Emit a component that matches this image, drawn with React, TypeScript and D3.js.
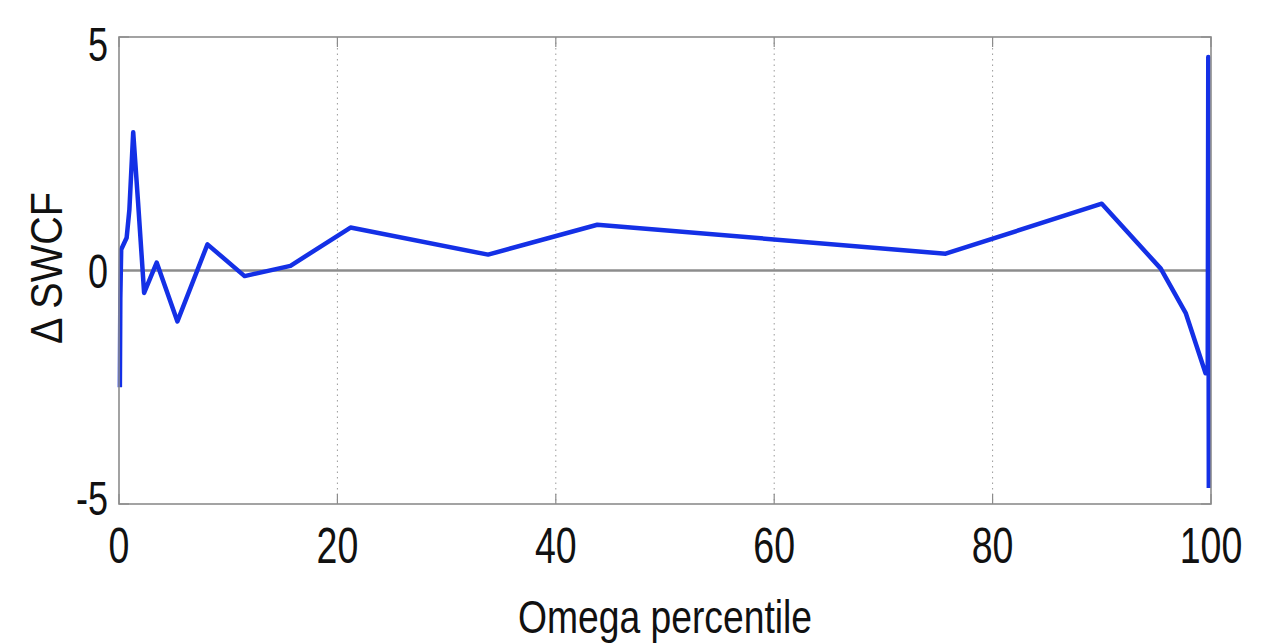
import React, { useEffect, useRef } from "react";
import * as d3 from "d3";

// Change in shortwave cloud forcing versus omega percentile
const omegaPct: number[] = [
  0.08, 0.12, 0.2, 0.7, 0.95, 1.3, 1.75, 2.3, 3.45, 5.35, 8.1, 11.5, 15.7,
  21.2, 33.8, 43.8, 75.7, 90.0, 95.4, 97.7, 99.5, 99.7, 99.75, 99.8,
];
const dSWCF: number[] = [
  -2.5, -0.6, 0.45, 0.7, 1.3, 2.96, 1.45, -0.48, 0.17, -1.09, 0.56, -0.12, 0.1,
  0.92, 0.34, 0.98, 0.36, 1.43, 0.04, -0.92, -2.2, -2.2, 4.57, -4.66,
];
const xTicks: number[] = [0, 20, 40, 60, 80, 100];
const yTicks: number[] = [-5, 0, 5];
const xGrid: number[] = [20, 40, 60, 80];

const W = 1270;
const H = 643;
const M = { left: 119, right: 1211, top: 37, bottom: 504 };
const FONT = "'Liberation Sans', Arial, Helvetica, sans-serif";

export default function App() {
  const ref = useRef<SVGSVGElement | null>(null);

  useEffect(() => {
    const svg = d3.select(ref.current);
    svg.selectAll("*").remove();

    const x = d3.scaleLinear().domain([0, 100]).range([M.left, M.right]);
    const y = d3.scaleLinear().domain([-5, 5]).range([M.bottom, M.top]);
    // baselines for the y tick labels
    const yLab = d3.scaleLinear().domain([-5, 5]).range([515, 61]);

    svg.append("rect").attr("width", W).attr("height", H).attr("fill", "#fff");

    // dotted vertical grid
    svg
      .append("g")
      .selectAll("line")
      .data(xGrid)
      .join("line")
      .attr("x1", (d) => x(d))
      .attr("x2", (d) => x(d))
      .attr("y1", M.top)
      .attr("y2", M.bottom)
      .attr("stroke", "#9a9a9a")
      .attr("stroke-width", 1)
      .attr("stroke-dasharray", "1.5,4");

    // zero reference line
    svg
      .append("line")
      .attr("x1", M.left)
      .attr("x2", M.right)
      .attr("y1", y(0))
      .attr("y2", y(0))
      .attr("stroke", "#8c8c8c")
      .attr("stroke-width", 2.4);

    // tick marks (inward)
    const tk = svg.append("g").attr("stroke", "#8c8c8c").attr("stroke-width", 1.2);
    xTicks.forEach((t) => {
      tk.append("line").attr("x1", x(t)).attr("x2", x(t)).attr("y1", M.bottom).attr("y2", M.bottom - 10);
      tk.append("line").attr("x1", x(t)).attr("x2", x(t)).attr("y1", M.top).attr("y2", M.top + 10);
    });
    yTicks.forEach((t) => {
      tk.append("line").attr("x1", M.left).attr("x2", M.left + 10).attr("y1", y(t)).attr("y2", y(t));
      tk.append("line").attr("x1", M.right).attr("x2", M.right - 10).attr("y1", y(t)).attr("y2", y(t));
    });

    // data line
    const pts: [number, number][] = omegaPct.map((v, i) => [v, dSWCF[i]]);
    const line = d3
      .line<[number, number]>()
      .x((d) => x(d[0]))
      .y((d) => y(d[1]));
    svg
      .append("path")
      .attr("d", line(pts) || "")
      .attr("fill", "none")
      .attr("stroke", "#1430e6")
      .attr("stroke-width", 4.5)
      .attr("stroke-linejoin", "round");

    // axes box
    svg
      .append("rect")
      .attr("x", M.left)
      .attr("y", M.top)
      .attr("width", M.right - M.left)
      .attr("height", M.bottom - M.top)
      .attr("fill", "none")
      .attr("stroke", "#8c8c8c")
      .attr("stroke-width", 1.6);

    const sx = 0.75;
    // x tick labels
    xTicks.forEach((t) => {
      svg
        .append("text")
        .attr("transform", `translate(${x(t)},${563}) scale(${sx},1)`)
        .attr("text-anchor", "middle")
        .attr("font-family", FONT)
        .attr("font-size", 50)
        .attr("fill", "#111")
        .text(String(t));
    });
    // y tick labels
    yTicks.forEach((t) => {
      svg
        .append("text")
        .attr("transform", `translate(${108},${yLab(t)}) scale(${sx},1)`)
        .attr("text-anchor", "end")
        .attr("font-family", FONT)
        .attr("font-size", 48)
        .attr("fill", "#111")
        .text(String(t));
    });

    // axis titles
    svg
      .append("text")
      .attr("transform", `translate(${(M.left + M.right) / 2},${633}) scale(0.81,1)`)
      .attr("text-anchor", "middle")
      .attr("font-family", FONT)
      .attr("font-size", 46)
      .attr("fill", "#111")
      .text("Omega percentile");

    svg
      .append("text")
      .attr("transform", `translate(${62},${268}) rotate(-90) scale(0.9,1)`)
      .attr("text-anchor", "middle")
      .attr("font-family", FONT)
      .attr("font-size", 44)
      .attr("fill", "#111")
      .text("\u0394 SWCF");
  }, []);

  return (
    <svg
      ref={ref}
      width={W}
      height={H}
      style={{ position: "absolute", left: 0, top: 0, display: "block" }}
    />
  );
}
